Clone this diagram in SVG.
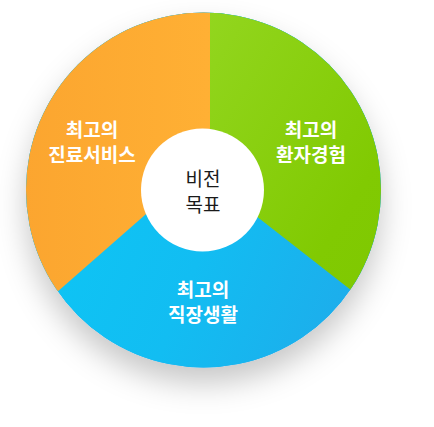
<svg xmlns="http://www.w3.org/2000/svg" width="434" height="427" viewBox="0 0 434 427">
  <style>
    .lbl { font-family: "Noto Sans CJK KR", "Noto Sans", sans-serif; font-size: 19px; font-weight: bold; fill: #ffffff; text-anchor: middle; }
    .ctr { font-family: "Noto Sans CJK KR", "Noto Sans", sans-serif; font-size: 19px; font-weight: normal; fill: #1a1a1a; text-anchor: middle; }
  </style>
  <defs>
    <clipPath id="pie">
      <circle cx="203.5" cy="190" r="177.5"/>
    </clipPath>
    <filter id="shadow" x="-30%" y="-30%" width="160%" height="170%">
      <feDropShadow dx="0" dy="16" stdDeviation="15" flood-color="#000000" flood-opacity="0.22"/>
    </filter>
    <linearGradient id="gOrange" x1="0" y1="0" x2="1" y2="0">
      <stop offset="0" stop-color="#fba42f"/>
      <stop offset="1" stop-color="#ffb034"/>
    </linearGradient>
    <linearGradient id="gGreen" x1="0" y1="0" x2="1" y2="1">
      <stop offset="0" stop-color="#93d61f"/>
      <stop offset="0.6" stop-color="#81ca02"/>
      <stop offset="1" stop-color="#7dc700"/>
    </linearGradient>
    <linearGradient id="gBlue" x1="0" y1="0.3" x2="1" y2="0.7">
      <stop offset="0" stop-color="#0bc9f6"/>
      <stop offset="0.5" stop-color="#12bdf2"/>
      <stop offset="1" stop-color="#22a6e8"/>
    </linearGradient>
  </defs>

  <g id="pie-chart">
    <circle cx="203.5" cy="190" r="177.5" fill="#22a6e8" filter="url(#shadow)"/>
    <g clip-path="url(#pie)">
      <g id="segment-blue">
        <rect x="0" y="0" width="434" height="427" fill="url(#gBlue)"/>
      </g>
      <g id="segment-orange">
        <polygon points="210,0 0,0 0,342 210,158" fill="url(#gOrange)"/>
      </g>
      <g id="segment-green">
        <polygon points="210,0 434,0 434,355 210,180" fill="url(#gGreen)"/>
      </g>
    </g>
  </g>

  <g id="node-center">
    <circle cx="202.5" cy="190" r="61.5" fill="#ffffff"/>
    <text class="ctr" x="203" y="186">비전</text>
    <text class="ctr" x="203" y="212">목표</text>
  </g>

  <g id="node-service">
    <text class="lbl" x="92" y="137">최고의</text>
    <text class="lbl" x="92" y="162">진료서비스</text>
  </g>

  <g id="node-patient">
    <text class="lbl" x="311" y="137">최고의</text>
    <text class="lbl" x="311" y="162">환자경험</text>
  </g>

  <g id="node-work">
    <text class="lbl" x="203" y="297">최고의</text>
    <text class="lbl" x="203" y="322">직장생활</text>
  </g>

  <g id="connectors"></g>
</svg>
